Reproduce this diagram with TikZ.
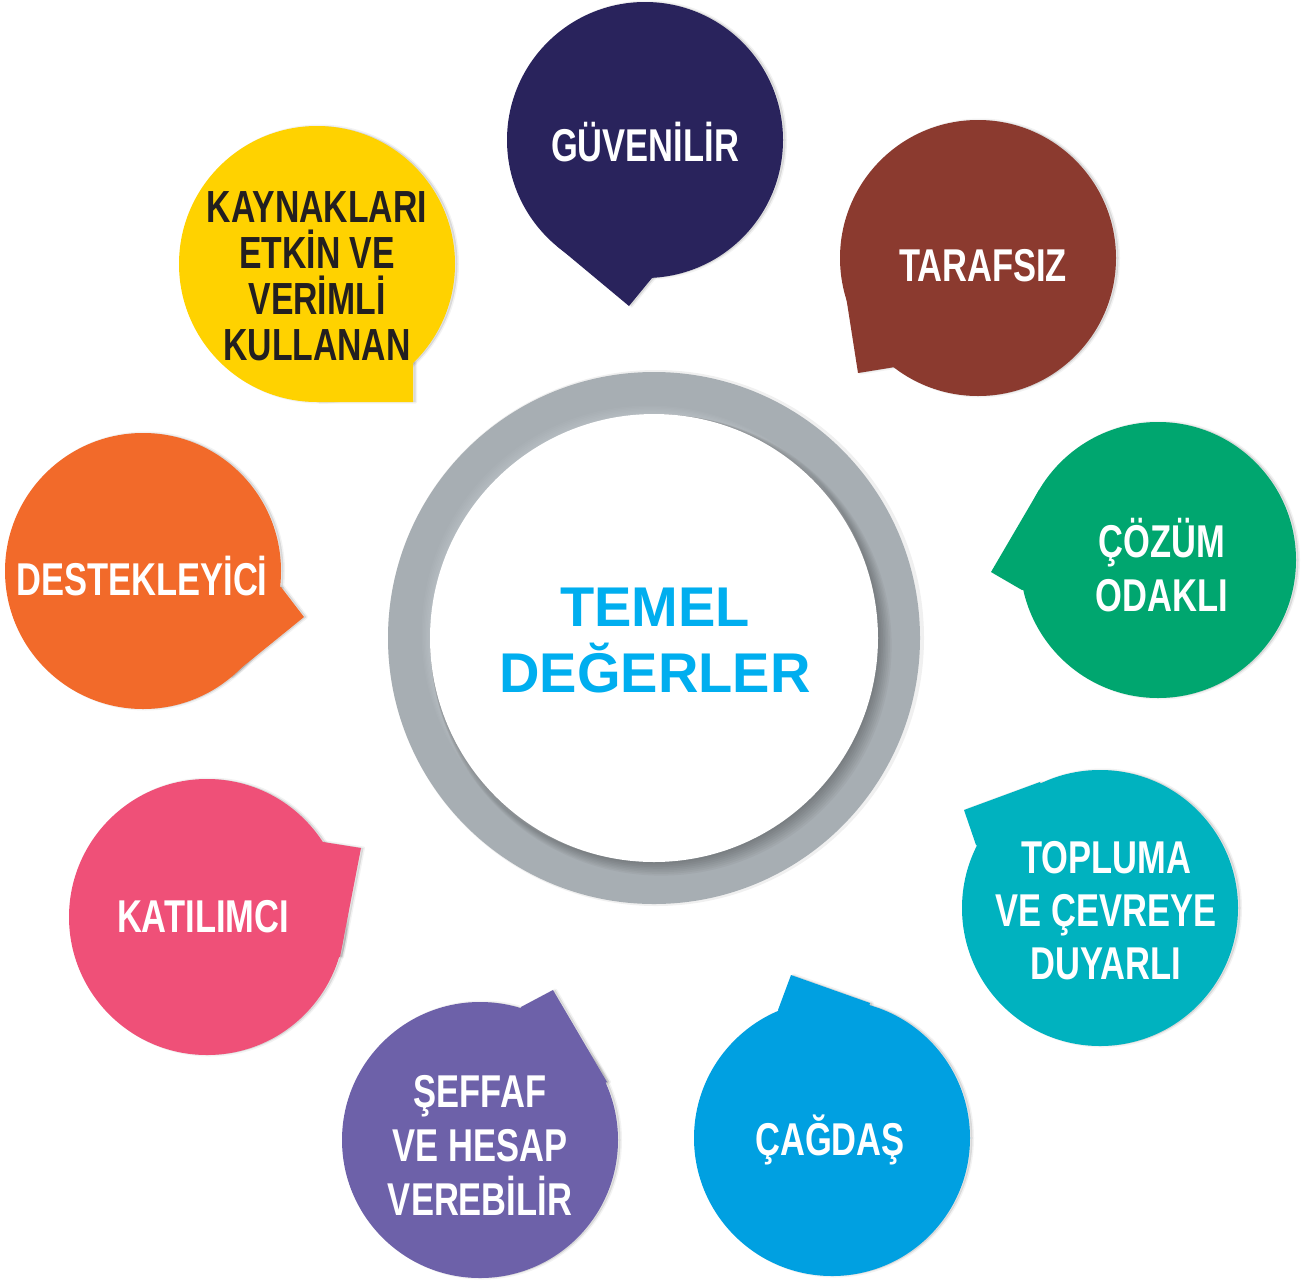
\documentclass[tikz,border=0pt]{standalone}
\usepackage{fontspec}
\setmainfont{Liberation Sans}
\newfontfamily\cond[FakeStretch=0.75]{Liberation Sans}
\definecolor{cNavy}{HTML}{29235C}
\definecolor{cBrown}{HTML}{8B3A2F}
\definecolor{cGreen}{HTML}{00A66F}
\definecolor{cTeal}{HTML}{00B2BF}
\definecolor{cBlue}{HTML}{00A0E1}
\definecolor{cPurple}{HTML}{6D61A9}
\definecolor{cPink}{HTML}{EF5078}
\definecolor{cOrange}{HTML}{F26A2A}
\definecolor{cYellow}{HTML}{FFD200}
\definecolor{cDark}{HTML}{231F20}
\definecolor{cRing}{HTML}{A7AEB3}
\definecolor{cCenter}{HTML}{00AEEF}
\tikzset{
  lbl/.style={font=\cond\bfseries\fontsize{46}{54}\selectfont, text=white, align=center, inner sep=0pt},
  centerlbl/.style={font=\bfseries\fontsize{56}{66}\selectfont, text=cCenter, align=center, inner sep=0pt},
  glow/.style={draw=black, fill=black, draw opacity=0.05, fill opacity=0.10, line width=3pt, line join=round},
}
% #1 centre, #2 A, #3 tip, #4 B, #5 colour
\newcommand\mybubble[5]{%
  \begin{scope}[shift={(2.5pt,0pt)}]
    \path[glow] (#1) circle (138pt);
    \path[glow] (#1) -- (#2) -- (#3) -- (#4) -- cycle;
  \end{scope}
  \fill[#5] (#1) circle (138pt);
  \fill[#5] (#1) -- (#2) -- (#3) -- (#4) -- cycle;
}
\begin{document}
\begin{tikzpicture}[x=1pt, y=-1pt]
\useasboundingbox (0,0) rectangle (1309,1283);
\fill[white] (0,0) rectangle (1309,1283);

% central ring
\fill[black, opacity=0.06] (656,638) circle (268pt);
\fill[cRing] (654,638) circle (266pt);
\foreach \d in {1,...,8}{
  \fill[black, opacity=0.035] ({654+\d*0.9},{638+\d*0.9}) circle ({(224+\d*0.8)*1pt});
}
\foreach \d in {1,...,6}{
  \fill[white, opacity=0.03] ({654-\d*0.8},{638-\d*0.8}) circle ({(224+\d*0.6)*1pt});
}
\fill[white] (654,638) circle (224pt);
\node[centerlbl] (center) at (655,640) {TEMEL\\DEĞERLER};

% bubbles
\mybubble{645,140}{557,246}{629,306}{652,278}{cNavy}
\node[lbl] (guv) at (645,142) {GÜVENİLİR};

\mybubble{978,258}{840,258}{858,373}{895,367}{cBrown}
\node[lbl] (tar) at (983,266) {TARAFSIZ};

\mybubble{1158,560}{1039,490}{991,572}{1022,590}{cGreen}
\node[lbl] (coz) at (1162,565) {ÇÖZÜM\\ODAKLI};

\mybubble{1100,908}{1040,782}{964,810}{976,845}{cTeal}
\node[lbl, font=\cond\bfseries\fontsize{46}{53}\selectfont] (top) at (1106,911) {TOPLUMA\\VE ÇEVREYE\\DUYARLI};

\mybubble{832,1138}{778,1010}{791,975}{870,1003}{cBlue}
\node[lbl] (cag) at (830,1140) {ÇAĞDAŞ};

\mybubble{480,1140}{521,1007}{553,990}{607,1082}{cPurple}
\node[lbl] (sef) at (480,1145) {ŞEFFAF\\VE HESAP\\VEREBİLİR};

\mybubble{207,917}{323,842}{361,848}{340,957}{cPink}
\node[lbl] (kat) at (203,917) {KATILIMCI};

\mybubble{143,571}{281,587}{304,617}{230,677}{cOrange}
\node[lbl] (des) at (142,576) {DESTEKLEYİCİ};

\mybubble{317,264}{413,363}{413,402}{317,402}{cYellow}
\node[lbl, text=cDark, font=\cond\bfseries\fontsize{45}{46}\selectfont] (kay) at (317,276) {KAYNAKLARI\\ETKİN VE\\VERİMLİ\\KULLANAN};
\end{tikzpicture}
\end{document}
